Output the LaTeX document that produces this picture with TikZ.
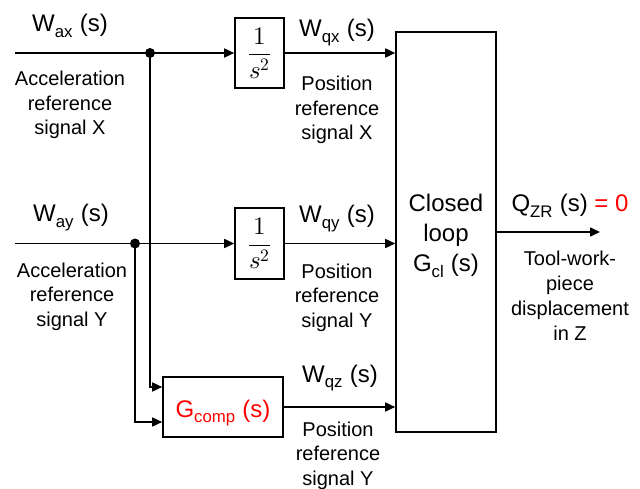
\documentclass[tikz,border=0pt]{standalone}
\usepackage{fontspec}
\usepackage{unicode-math}
\setmainfont{Liberation Sans}
\setmathfont{Latin Modern Math}
\usetikzlibrary{arrows.meta,calc}
\begin{document}
\begin{tikzpicture}[x=1pt,y=-1pt,
  line width=1.6pt,
  big/.style={font=\fontsize{24}{30}\selectfont},
  small/.style={font=\fontsize{20}{24.5}\selectfont},
  blk/.style={draw,rectangle,inner sep=0pt},
  lbl/.style={align=center,inner sep=0pt,anchor=base},
  arr/.style={-{Triangle[length=10pt,width=9pt]}},
  dot/.style={circle,fill,inner sep=0pt,minimum size=10pt}]
\useasboundingbox (0,0) rectangle (640,489);

% transfer blocks
\node[blk,minimum width=49pt,minimum height=70pt,font=\fontsize{25}{28}\selectfont] (b1) at (259.5,53) {$\displaystyle\frac{1}{s^2}$};
\node[blk,minimum width=49pt,minimum height=71pt,font=\fontsize{25}{28}\selectfont] (b2) at (259.5,243.5) {$\displaystyle\frac{1}{s^2}$};
\node[blk,minimum width=120pt,minimum height=60pt] (gc) at (223,407) {};
\node[blk,minimum width=100pt,minimum height=400pt] (cl) at (446,232) {};

% branch points and free ends
\node[dot] (d1) at (150,53) {};
\node[dot] (d2) at (135,243.5) {};
\coordinate (s1) at (15,53);
\coordinate (s2) at (15,243.5);
\coordinate (e) at (600,232);

% signal lines
\draw (s1) -- (d1.center);
\draw[arr] (d1.center) -- (b1.west);
\draw (s2) -- (d2.center);
\draw[arr] (d2.center) -- (b2.west);
\draw[arr] (b1.east) -- (b1.east -| cl.west);
\draw[arr] (b2.east) -- (b2.east -| cl.west);
\draw[arr] (d1.center) |- ($(gc.west)+(0,-20)$);
\draw[arr] (d2.center) |- ($(gc.west)+(0,15)$);
\draw[arr] (gc.east) -- (gc.east -| cl.west);
\draw[arr] (cl.east) -- (e);

% signal names (anchored on the baseline of their last line)
\node[lbl,big] (wax) at (70,32) {W\textsubscript{ax} (s)};
\node[lbl,big] (way) at (71,222) {W\textsubscript{ay} (s)};
\node[lbl,big] (wqx) at (337,37) {W\textsubscript{qx} (s)};
\node[lbl,big] (wqy) at (337,223) {W\textsubscript{qy} (s)};
\node[lbl,big] (wqz) at (340,382) {W\textsubscript{qz} (s)};
\node[lbl,big] (gct) at (223,417) {\color{red}G\textsubscript{comp} (s)};
\node[lbl,big] (qzr) at (570,212) {Q\textsubscript{ZR} (s) {\color{red}= 0}};
\node[lbl,big] (tcl) at (446,272) {Closed\\loop\\G\textsubscript{cl} (s)};

% descriptions
\node[lbl,small] (tax) at (70,135) {Acceleration\\reference\\signal X};
\node[lbl,small] (tay) at (72,326) {Acceleration\\reference\\signal Y};
\node[lbl,small] (tqx) at (337,140) {Position\\reference\\signal X};
\node[lbl,small] (tqy) at (337,327) {Position\\reference\\signal Y};
\node[lbl,small] (tqz) at (338,485) {Position\\reference\\signal Y};
\node[lbl,small,font=\fontsize{20}{25}\selectfont] (tz) at (570,340) {Tool-work-\\piece\\displacement\\in Z};
\end{tikzpicture}
\end{document}
